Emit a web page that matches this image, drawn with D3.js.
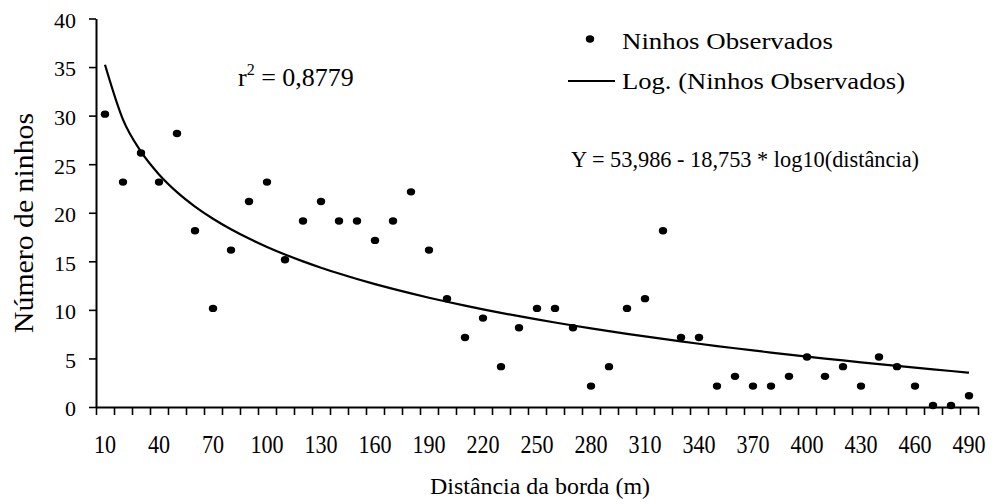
<!DOCTYPE html>
<html>
<head>
<meta charset="utf-8">
<script src="https://cdn.jsdelivr.net/npm/d3@7/dist/d3.min.js"></script>
</head>
<body style="margin:0">
<script>
// distâncias da borda (m) e ninhos observados em cada uma
var distancias = [10, 20, 30, 40, 50, 60, 70, 80, 90, 100, 110, 120, 130, 140, 150, 160, 170,
    180, 190, 200, 210, 220, 230, 240, 250, 260, 270, 280, 290, 300, 310, 320, 330, 340,
    350, 360, 370, 380, 390, 400, 410, 420, 430, 440, 450, 460, 470, 480, 490];
var ninhos = [30, 23, 26, 23, 28, 18, 10, 16, 21, 23, 15, 19, 21, 19, 19, 17, 19,
    22, 16, 11, 7, 9, 4, 8, 10, 10, 8, 2, 4, 10, 11, 18, 7, 7,
    2, 3, 2, 2, 3, 5, 3, 4, 2, 5, 4, 2, 0, 0, 1];
var rotulosX = [10, 40, 70, 100, 130, 160, 190, 220, 250, 280, 310, 340, 370, 400, 430, 460, 490];
var ticksY = [0, 5, 10, 15, 20, 25, 30, 35, 40];

// coeficientes da linha de tendência logarítmica (texto do gráfico)
var coefA = 53.986;
var coefB = -18.753;

var largura = 995, altura = 504;
var esquerda = 96, direita = 978, topo = 18.5, base = 407;

var svg = d3.select("body").append("svg")
    .attr("width", largura).attr("height", altura)
    .style("font-family", "Liberation Serif");
svg.append("rect").attr("width", largura).attr("height", altura).attr("fill", "#fff");

function texto(pai, tamanho) {
    return pai.append("text")
        .style("font-family", "Liberation Serif")
        .attr("font-size", tamanho)
        .attr("fill", "#000");
}

var x = d3.scaleBand().domain(distancias).range([esquerda, direita]).padding(0);
var xLimites = d3.scaleLinear().domain([5, 495]).range([esquerda, direita]);
var y = d3.scaleLinear().domain([0, 40]).range([base, topo]);

// eixo Y
var eixoY = svg.append("g")
    .attr("transform", "translate(" + esquerda + ",0)")
    .call(d3.axisLeft(y).tickValues(ticksY).tickSize(7).tickSizeOuter(0).tickPadding(13));
eixoY.attr("font-family", null).attr("font-size", null);
eixoY.select(".domain").attr("stroke-width", 2);
eixoY.selectAll(".tick line").attr("stroke-width", 1.6);
eixoY.selectAll("text")
    .style("font-family", "Liberation Serif")
    .attr("font-size", 22).attr("dy", "0.4em");

// eixo X: traços entre as categorias
var fronteiras = distancias.map(function(d) { return d - 5; }).concat([495]);
var eixoX = svg.append("g")
    .attr("transform", "translate(0," + base + ")")
    .call(d3.axisBottom(xLimites).tickValues(fronteiras).tickSize(8).tickSizeOuter(0).tickFormat(""));
eixoX.select(".domain").attr("stroke-width", 2);
eixoX.selectAll(".tick line").attr("stroke-width", 1.6);

// rótulos do eixo X (um em cada três)
var rotulos = svg.append("g")
    .attr("transform", "translate(0," + base + ")")
    .call(d3.axisBottom(x).tickValues(rotulosX).tickSize(0));
rotulos.attr("font-family", null).attr("font-size", null);
rotulos.select(".domain").remove();
rotulos.selectAll("text")
    .style("font-family", "Liberation Serif")
    .attr("y", 46).attr("dy", 0)
    .attr("font-size", 26)
    .attr("transform", "scale(0.85,1)");

// linha de tendência
var linha = d3.line()
    .x(function(d) { return x(d) + x.bandwidth() / 2; })
    .y(function(d) { return y(coefA + coefB * Math.log10(d)); })
    .curve(d3.curveMonotoneX);
svg.append("path")
    .attr("d", linha(distancias))
    .attr("fill", "none")
    .attr("stroke", "#000")
    .attr("stroke-width", 2.2);

// pontos observados
svg.selectAll(".ponto")
    .data(distancias)
    .enter()
    .append("ellipse")
    .attr("class", "ponto")
    .attr("cx", function(d) { return x(d) + x.bandwidth() / 2; })
    .attr("cy", function(d, i) { return y(ninhos[i]) - 1.5; })
    .attr("rx", 4.2)
    .attr("ry", 3.7)
    .attr("fill", "#000");

// títulos dos eixos
texto(svg, 24)
    .attr("x", 540).attr("y", 494)
    .attr("text-anchor", "middle")
    .attr("textLength", 220).attr("lengthAdjust", "spacingAndGlyphs")
    .text("Distância da borda (m)");

texto(svg, 27)
    .attr("transform", "translate(33,223) rotate(-90)")
    .attr("text-anchor", "middle")
    .attr("textLength", 220).attr("lengthAdjust", "spacingAndGlyphs")
    .text("Número de ninhos");

// legenda
svg.append("ellipse").attr("cx", 590).attr("cy", 39).attr("rx", 4.2).attr("ry", 3.7).attr("fill", "#000");
texto(svg, 23)
    .attr("x", 622).attr("y", 49)
    .attr("textLength", 211).attr("lengthAdjust", "spacingAndGlyphs")
    .text("Ninhos Observados");
svg.append("line")
    .attr("x1", 568).attr("x2", 615).attr("y1", 81).attr("y2", 81)
    .attr("stroke", "#000").attr("stroke-width", 2);
texto(svg, 24)
    .attr("x", 622).attr("y", 89)
    .attr("textLength", 283).attr("lengthAdjust", "spacingAndGlyphs")
    .text("Log. (Ninhos Observados)");

// r² e equação
var r2 = texto(svg, 26).attr("x", 238).attr("y", 86);
r2.append("tspan").text("r");
r2.append("tspan").attr("font-size", 16).attr("dy", -11).text("2");
r2.append("tspan").attr("dy", 11).text(" = 0,8779");

texto(svg, 24)
    .attr("x", 571).attr("y", 167)
    .attr("textLength", 348).attr("lengthAdjust", "spacingAndGlyphs")
    .text("Y = 53,986 - 18,753 * log10(distância)");
</script>
</body>
</html>
